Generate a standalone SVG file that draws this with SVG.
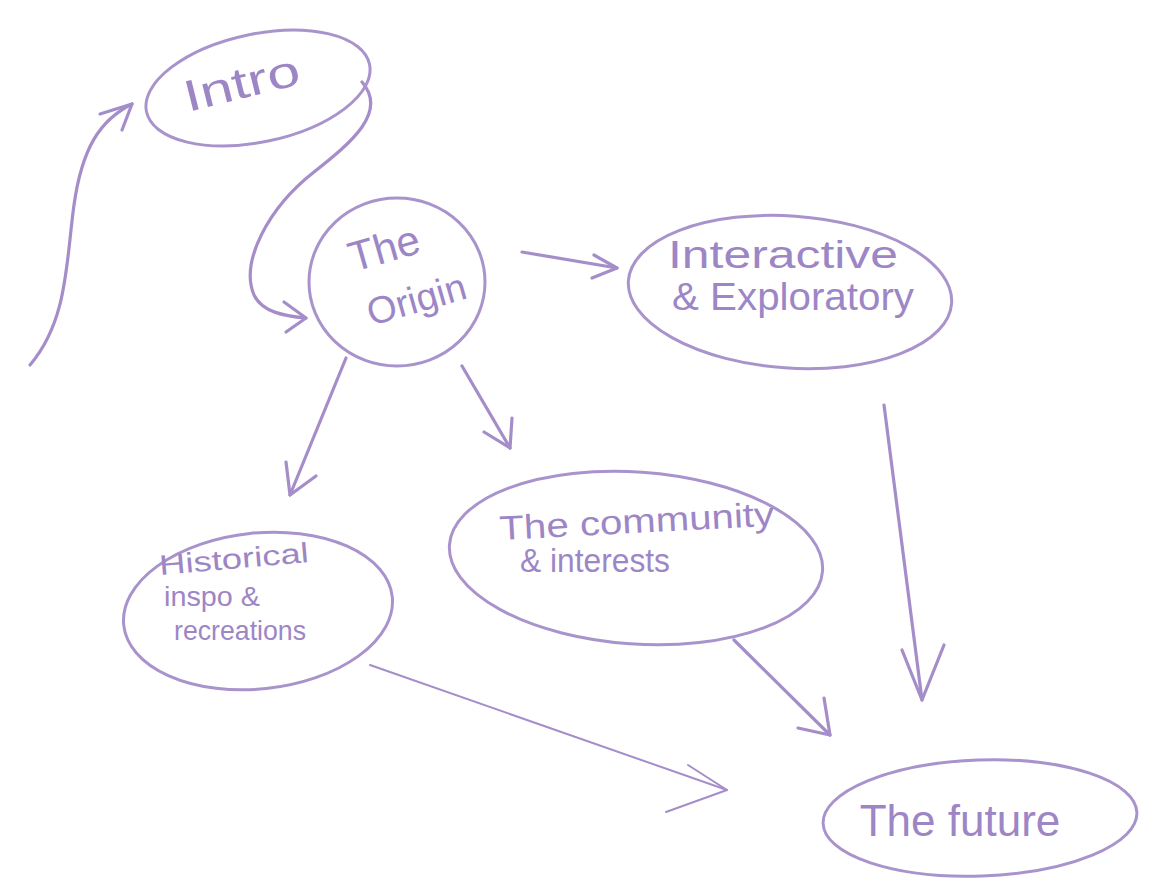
<svg xmlns="http://www.w3.org/2000/svg" width="1156" height="886" viewBox="0 0 1156 886">
<style>
.n{fill:none;stroke:#a993cc;stroke-width:3;stroke-linecap:round}
.c{fill:none;stroke:#a58dca;stroke-width:3.2;stroke-linecap:round;stroke-linejoin:round}
.t{fill:#9d86c6;font-family:"Liberation Sans",Arial,sans-serif}
</style>
<rect width="1156" height="886" fill="#ffffff"/>
<g id="connectors">
<path class="c" d="M30 365 C68 320 66 262 74 205 C82 148 100 120 132 104"/>
<path class="c" d="M100 114 L132 104 L122 130"/>
<path class="c" d="M362 82 C388 112 352 142 314 172 C268 208 240 262 254 295 C262 312 284 316 306 318"/>
<path class="c" d="M284 302 L306 318 L286 332"/>
<path class="c" d="M522 252 L617 268"/>
<path class="c" d="M594 255 L617 268 L592 278"/>
<path class="c" d="M346 358 L290 495"/>
<path class="c" d="M286 462 L290 495 L316 476"/>
<path class="c" d="M462 366 L510 448"/>
<path class="c" d="M484 432 L510 448 L512 418"/>
<path class="c" d="M884 405 L922 700"/>
<path class="c" d="M902 650 L922 700 L944 645"/>
<path class="c" d="M734 640 L830 735"/>
<path class="c" d="M798 728 L830 735 L824 698"/>
<path class="c" d="M370 665 L727 790" style="stroke-width:2"/>
<path class="c" d="M688 765 L727 790 L666 812" style="stroke-width:2"/>
</g>
<g id="intro">
<ellipse class="n" cx="258" cy="88" rx="114" ry="54" transform="rotate(-12 258 88)"/>
<text class="t" x="188" y="112" font-size="44" textLength="118" lengthAdjust="spacingAndGlyphs" transform="rotate(-14 188 112)">Intro</text>
</g>
<g id="origin">
<ellipse class="n" cx="397" cy="282" rx="88" ry="84"/>
<text class="t" x="388" y="262" font-size="42" text-anchor="middle" transform="rotate(-16 388 262)">The</text>
<text class="t" x="420" y="312" font-size="38" text-anchor="middle" transform="rotate(-16 420 312)">Origin</text>
</g>
<g id="interactive">
<ellipse class="n" cx="790" cy="292" rx="162" ry="76" transform="rotate(4 790 292)"/>
<text class="t" x="668" y="268" font-size="38" textLength="230" lengthAdjust="spacingAndGlyphs">Interactive</text>
<text class="t" x="672" y="310" font-size="38" textLength="242" lengthAdjust="spacingAndGlyphs">&amp; Exploratory</text>
</g>
<g id="community">
<ellipse class="n" cx="636" cy="558" rx="187" ry="86" transform="rotate(4 636 558)"/>
<text class="t" x="500" y="540" font-size="34" textLength="275" lengthAdjust="spacingAndGlyphs" transform="rotate(-3 500 540)">The community</text>
<text class="t" x="520" y="572" font-size="34" textLength="150" lengthAdjust="spacingAndGlyphs">&amp; interests</text>
</g>
<g id="historical">
<ellipse class="n" cx="258" cy="611" rx="135" ry="78" transform="rotate(-6 258 611)"/>
<text class="t" x="160" y="575" font-size="28" textLength="150" lengthAdjust="spacingAndGlyphs" transform="rotate(-5 160 575)">Historical</text>
<text class="t" x="164" y="606" font-size="28" textLength="96" lengthAdjust="spacingAndGlyphs">inspo &amp;</text>
<text class="t" x="174" y="640" font-size="28" textLength="132" lengthAdjust="spacingAndGlyphs">recreations</text>
</g>
<g id="future">
<ellipse class="n" cx="980" cy="818" rx="157" ry="58" transform="rotate(-2 980 818)"/>
<text class="t" x="960" y="836" font-size="44" text-anchor="middle">The future</text>
</g>
</svg>
